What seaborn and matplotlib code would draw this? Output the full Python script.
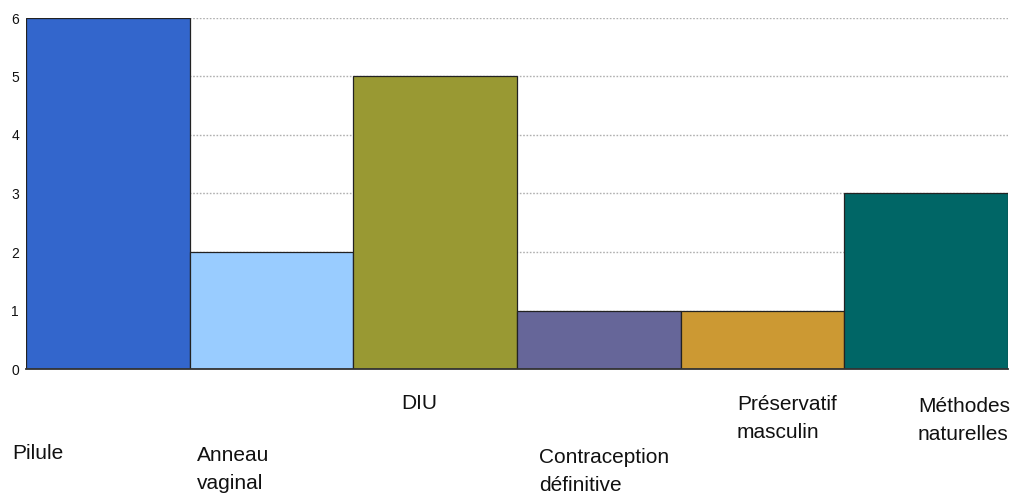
import matplotlib
matplotlib.use("Agg")
import matplotlib.pyplot as plt
import seaborn as sns
import pandas as pd

# Contraceptive methods and counts
methods = ["Pilule", "Anneau\nvaginal", "DIU", "Contraception\ndéfinitive",
           "Préservatif\nmasculin", "Méthodes\nnaturelles"]
counts = [6, 2, 5, 1, 1, 3]
colors = ["#3366CC", "#99CCFF", "#999933", "#666699", "#CC9933", "#006666"]
y_ticks = [0, 1, 2, 3, 4, 5, 6]

sns.set_theme(style="white")
plt.rcParams["font.family"] = ["Liberation Sans", "DejaVu Sans"]

W, H = 1016, 494
fig = plt.figure(figsize=(W / 100, H / 100), dpi=100)
ax = fig.add_axes([26 / W, 1 - 369 / H, (1008 - 26) / W, (369 - 18) / H])

df = pd.DataFrame({"method": methods, "count": counts})
sns.barplot(data=df, x="method", y="count", hue="method", palette=colors,
            width=1.0, dodge=False, legend=False, ax=ax,
            edgecolor="#222222", linewidth=0.9, saturation=1, zorder=2)

ax.set_xlim(-0.5, len(methods) - 0.5)
ax.set_ylim(0, 6)
ax.set_yticks(y_ticks)
ax.set_yticklabels([str(t) for t in y_ticks], fontsize=10, color="#111111")
ax.tick_params(axis="y", length=0, pad=5)
ax.set_xticks([])
ax.set_xlabel("")
ax.set_ylabel("")

# dotted horizontal grid behind the bars
for t in y_ticks[1:]:
    ax.axhline(t, color="#b0b0b0", linestyle=(0, (1.2, 1.2)), linewidth=1.0, zorder=1)

for side in ["top", "right", "left"]:
    ax.spines[side].set_visible(False)
ax.spines["bottom"].set_color("#333333")
ax.spines["bottom"].set_linewidth(1.3)
ax.spines["bottom"].set_zorder(3)

# staggered category labels below the plot (x, last-line baseline in pixels)
label_pos = [(12, 459), (197, 489), (401, 409), (539, 491), (737, 438), (918, 440)]
for name, (px, py) in zip(methods, label_pos):
    fig.text(px / W, 1 - py / H, name, ha="left", va="baseline",
             fontsize=15, color="#111111", linespacing=1.58)

fig.savefig("out.png", dpi=100)
